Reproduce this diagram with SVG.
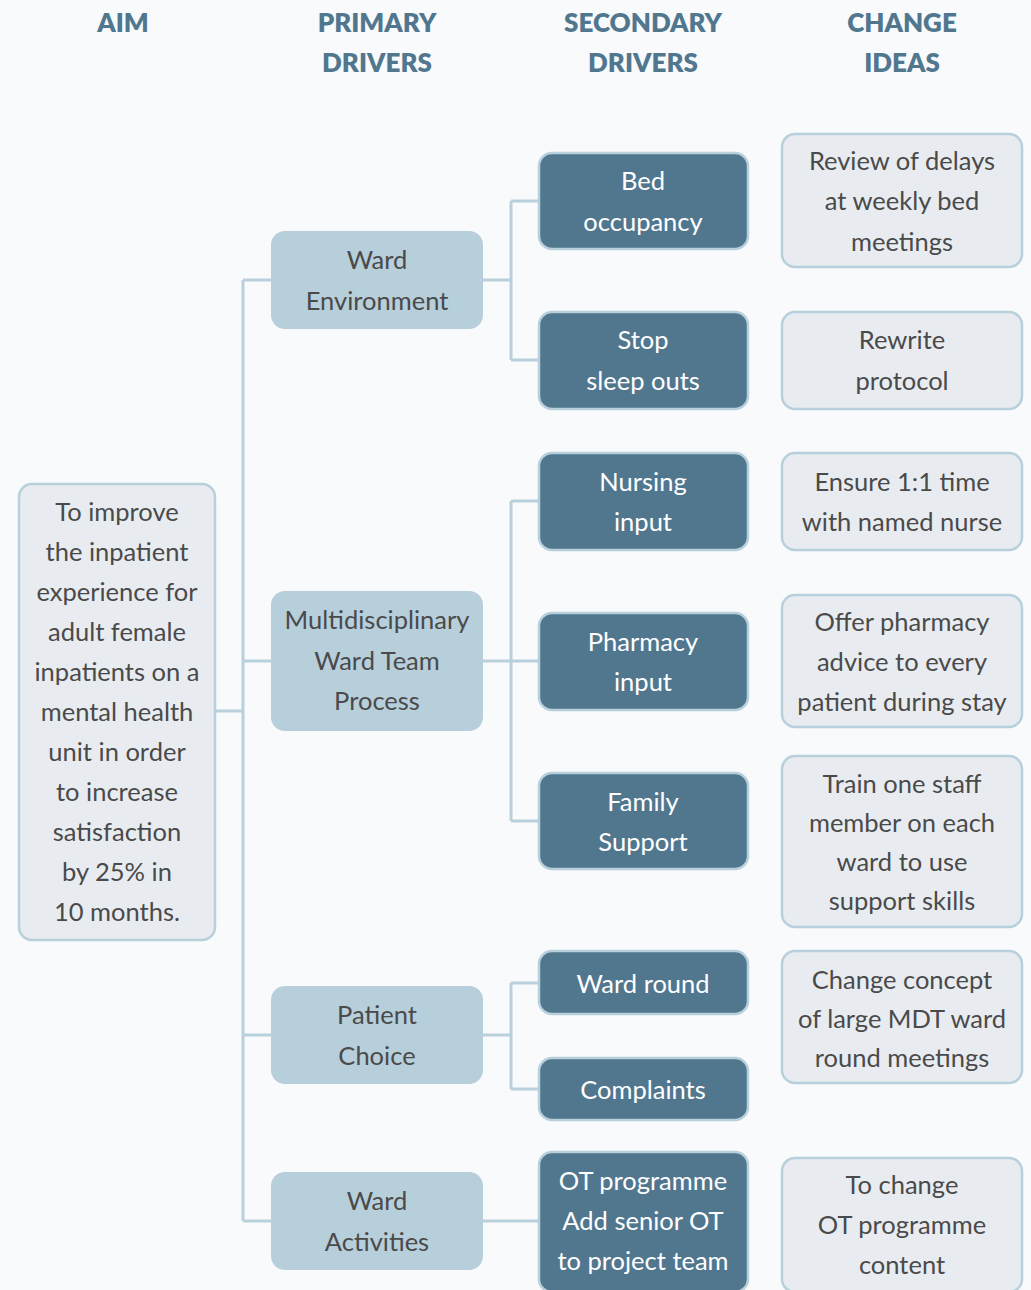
<svg xmlns="http://www.w3.org/2000/svg" width="1031" height="1290" viewBox="0 0 1031 1290">
<style>
.bg{fill:#f8fafc}
.h{font-family:Lato,"Open Sans",sans-serif;font-weight:800;font-size:26px;fill:#51778f;text-anchor:middle}
.t{font-family:Lato,"Open Sans",sans-serif;font-size:25.5px;fill:#4a4a4a;text-anchor:middle;dominant-baseline:central}
.w{fill:#ffffff}
.aim,.idea{fill:#e8ecf1;stroke:#b8cfdc;stroke-width:2.5}
.prim{fill:#b7cedb}
.sec{fill:#51778f;stroke:#b8cfdc;stroke-width:2.5}
.c{fill:none;stroke:#b8cfdc;stroke-width:3}
</style>
<rect class="bg" x="0" y="0" width="1031" height="1290"/>
<g id="headers">
<text class="h" x="123" y="32">AIM</text>
<text class="h" x="377" y="32">PRIMARY</text>
<text class="h" x="377" y="72">DRIVERS</text>
<text class="h" x="643" y="32">SECONDARY</text>
<text class="h" x="643" y="72">DRIVERS</text>
<text class="h" x="902" y="32">CHANGE</text>
<text class="h" x="902" y="72">IDEAS</text>
</g>
<g id="connectors">
<path class="c" d="M215 711H243M243 280V1221M243 280H271M243 661H271M243 1035H271M243 1221H271"/>
<path class="c" d="M483 280H511M511 201V360M511 201H539M511 360H539"/>
<path class="c" d="M483 661H539M511 501V821M511 501H539M511 821H539"/>
<path class="c" d="M483 1035H511M511 983V1089M511 983H539M511 1089H539"/>
<path class="c" d="M483 1221H539"/>
</g>
<g id="aim">
<rect class="aim" x="19" y="484" width="196" height="456" rx="13"/>
<text class="t"><tspan x="117" y="511">To improve</tspan><tspan x="117" y="551">the inpatient</tspan><tspan x="117" y="591">experience for</tspan><tspan x="117" y="631">adult female</tspan><tspan x="117" y="671">inpatients on a</tspan><tspan x="117" y="711">mental health</tspan><tspan x="117" y="751">unit in order</tspan><tspan x="117" y="791">to increase</tspan><tspan x="117" y="831">satisfaction</tspan><tspan x="117" y="871">by 25% in</tspan><tspan x="117" y="911">10 months.</tspan></text>
</g>
<g id="p-ward-environment">
<rect class="prim" x="271" y="231" width="212" height="98" rx="14"/>
<text class="t"><tspan x="377" y="259">Ward</tspan><tspan x="377" y="300">Environment</tspan></text>
</g>
<g id="p-mdt">
<rect class="prim" x="271" y="591" width="212" height="140" rx="14"/>
<text class="t"><tspan x="377" y="619">Multidisciplinary</tspan><tspan x="377" y="660">Ward Team</tspan><tspan x="377" y="700">Process</tspan></text>
</g>
<g id="p-patient-choice">
<rect class="prim" x="271" y="986" width="212" height="98" rx="14"/>
<text class="t"><tspan x="377" y="1014">Patient</tspan><tspan x="377" y="1055">Choice</tspan></text>
</g>
<g id="p-ward-activities">
<rect class="prim" x="271" y="1172" width="212" height="98" rx="14"/>
<text class="t"><tspan x="377" y="1200">Ward</tspan><tspan x="377" y="1241">Activities</tspan></text>
</g>
<g id="s-bed">
<rect class="sec" x="539" y="153" width="209" height="96" rx="13"/>
<text class="t w"><tspan x="643" y="180">Bed</tspan><tspan x="643" y="221">occupancy</tspan></text>
</g>
<g id="s-stop">
<rect class="sec" x="539" y="312" width="209" height="97" rx="13"/>
<text class="t w"><tspan x="643" y="339">Stop</tspan><tspan x="643" y="380">sleep outs</tspan></text>
</g>
<g id="s-nursing">
<rect class="sec" x="539" y="453" width="209" height="97" rx="13"/>
<text class="t w"><tspan x="643" y="481">Nursing</tspan><tspan x="643" y="521">input</tspan></text>
</g>
<g id="s-pharmacy">
<rect class="sec" x="539" y="613" width="209" height="97" rx="13"/>
<text class="t w"><tspan x="643" y="641">Pharmacy</tspan><tspan x="643" y="681">input</tspan></text>
</g>
<g id="s-family">
<rect class="sec" x="539" y="773" width="209" height="96" rx="13"/>
<text class="t w"><tspan x="643" y="801">Family</tspan><tspan x="643" y="841">Support</tspan></text>
</g>
<g id="s-wardround">
<rect class="sec" x="539" y="951" width="209" height="63" rx="13"/>
<text class="t w" x="643" y="983">Ward round</text>
</g>
<g id="s-complaints">
<rect class="sec" x="539" y="1058" width="209" height="62" rx="13"/>
<text class="t w" x="643" y="1089">Complaints</text>
</g>
<g id="s-ot">
<rect class="sec" x="539" y="1152" width="209" height="140" rx="13"/>
<text class="t w"><tspan x="643" y="1180">OT programme</tspan><tspan x="643" y="1220">Add senior OT</tspan><tspan x="643" y="1260">to project team</tspan></text>
</g>
<g id="c-review">
<rect class="idea" x="782" y="134" width="240" height="133" rx="13"/>
<text class="t"><tspan x="902" y="160">Review of delays</tspan><tspan x="902" y="200">at weekly bed</tspan><tspan x="902" y="241">meetings</tspan></text>
</g>
<g id="c-rewrite">
<rect class="idea" x="782" y="312" width="240" height="97" rx="13"/>
<text class="t"><tspan x="902" y="339">Rewrite</tspan><tspan x="902" y="380">protocol</tspan></text>
</g>
<g id="c-ensure">
<rect class="idea" x="782" y="453" width="240" height="97" rx="13"/>
<text class="t"><tspan x="902" y="481">Ensure 1:1 time</tspan><tspan x="902" y="521">with named nurse</tspan></text>
</g>
<g id="c-offer">
<rect class="idea" x="782" y="595" width="240" height="132" rx="13"/>
<text class="t"><tspan x="902" y="621">Offer pharmacy</tspan><tspan x="902" y="661">advice to every</tspan><tspan x="902" y="701">patient during stay</tspan></text>
</g>
<g id="c-train">
<rect class="idea" x="782" y="756" width="240" height="171" rx="13"/>
<text class="t"><tspan x="902" y="783">Train one staff</tspan><tspan x="902" y="822">member on each</tspan><tspan x="902" y="861">ward to use</tspan><tspan x="902" y="900">support skills</tspan></text>
</g>
<g id="c-change">
<rect class="idea" x="782" y="951" width="240" height="132" rx="13"/>
<text class="t"><tspan x="902" y="979">Change concept</tspan><tspan x="902" y="1018">of large MDT ward</tspan><tspan x="902" y="1057">round meetings</tspan></text>
</g>
<g id="c-otchange">
<rect class="idea" x="782" y="1158" width="240" height="134" rx="13"/>
<text class="t"><tspan x="902" y="1184">To change</tspan><tspan x="902" y="1224">OT programme</tspan><tspan x="902" y="1264">content</tspan></text>
</g>
</svg>
